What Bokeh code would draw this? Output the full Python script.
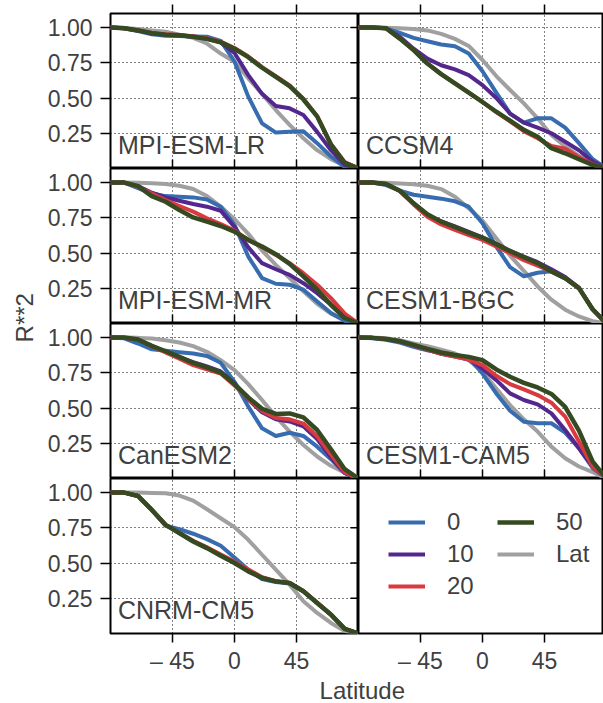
import math
from bokeh.plotting import figure
from bokeh.layouts import row, column
from bokeh.models import (Label, Legend, LegendItem, FixedTicker, Range1d,
                          LinearAxis, NumeralTickFormatter)
from bokeh.embed import file_html
from bokeh.resources import INLINE

# ---------------- data ----------------
LATS = [-90, -80, -70, -60, -50, -40, -30, -20, -10, 0, 10, 20, 30, 40, 50, 60, 70, 80, 90]
MODELS = ["MPI-ESM-LR", "CCSM4", "MPI-ESM-MR", "CESM1-BGC", "CanESM2", "CESM1-CAM5", "CNRM-CM5"]
SERIES = ["0", "10", "20", "50", "Lat"]
X_TICKS = [-45, 0, 45]
Y_TICKS = [0.25, 0.5, 0.75, 1.0]

mpi_lr_0 = [1.0, 0.995, 0.975, 0.952, 0.942, 0.94, 0.937, 0.935, 0.905, 0.76, 0.51, 0.32, 0.255, 0.26, 0.265, 0.18, 0.085, 0.01, 0.0]
mpi_lr_10 = [1.0, 0.995, 0.98, 0.96, 0.95, 0.945, 0.935, 0.92, 0.895, 0.82, 0.663, 0.53, 0.443, 0.427, 0.38, 0.26, 0.13, 0.026, 0.0]
mpi_lr_20 = [1.0, 0.995, 0.982, 0.962, 0.952, 0.947, 0.938, 0.925, 0.9, 0.855, 0.795, 0.72, 0.655, 0.59, 0.495, 0.37, 0.175, 0.045, 0.0]
mpi_lr_50 = [1.0, 0.995, 0.98, 0.96, 0.95, 0.945, 0.935, 0.92, 0.895, 0.85, 0.79, 0.715, 0.65, 0.585, 0.49, 0.37, 0.17, 0.04, 0.0]
mpi_lr_lat = [1.0, 0.998, 0.99, 0.98, 0.97, 0.95, 0.927, 0.887, 0.816, 0.757, 0.64, 0.53, 0.415, 0.31, 0.215, 0.13, 0.066, 0.02, 0.0]

ccsm4_0 = [1.0, 1.0, 0.995, 0.962, 0.927, 0.903, 0.88, 0.868, 0.816, 0.69, 0.538, 0.39, 0.325, 0.356, 0.356, 0.29, 0.18, 0.066, 0.0]
ccsm4_10 = [1.0, 1.0, 0.995, 0.934, 0.85, 0.78, 0.733, 0.703, 0.663, 0.592, 0.5, 0.39, 0.325, 0.29, 0.25, 0.19, 0.13, 0.05, 0.0]
ccsm4_20 = [1.0, 1.0, 0.995, 0.922, 0.84, 0.745, 0.67, 0.604, 0.538, 0.472, 0.4, 0.335, 0.265, 0.215, 0.16, 0.14, 0.08, 0.03, 0.0]
ccsm4_50 = [1.0, 1.0, 0.995, 0.922, 0.84, 0.745, 0.67, 0.604, 0.538, 0.472, 0.403, 0.34, 0.274, 0.226, 0.144, 0.108, 0.066, 0.026, 0.0]
ccsm4_lat = [1.0, 1.0, 0.998, 0.995, 0.99, 0.98, 0.955, 0.92, 0.87, 0.77, 0.656, 0.557, 0.462, 0.356, 0.238, 0.156, 0.09, 0.038, 0.0]

mpi_mr_0 = [1.0, 1.0, 0.96, 0.923, 0.904, 0.9, 0.895, 0.88, 0.829, 0.7, 0.475, 0.322, 0.282, 0.275, 0.24, 0.156, 0.074, 0.02, 0.0]
mpi_mr_10 = [1.0, 1.0, 0.975, 0.928, 0.895, 0.871, 0.848, 0.829, 0.8, 0.685, 0.54, 0.428, 0.385, 0.345, 0.286, 0.215, 0.133, 0.045, 0.0]
mpi_mr_20 = [1.0, 1.0, 0.97, 0.923, 0.876, 0.834, 0.794, 0.746, 0.706, 0.659, 0.593, 0.541, 0.487, 0.428, 0.357, 0.275, 0.18, 0.07, 0.0]
mpi_mr_50 = [1.0, 1.0, 0.975, 0.904, 0.864, 0.805, 0.753, 0.723, 0.692, 0.652, 0.593, 0.546, 0.492, 0.423, 0.334, 0.24, 0.133, 0.039, 0.0]
mpi_mr_lat = [1.0, 1.0, 0.998, 0.995, 0.99, 0.978, 0.955, 0.905, 0.83, 0.74, 0.636, 0.518, 0.416, 0.322, 0.228, 0.14, 0.07, 0.022, 0.0]

bgc_0 = [1.0, 1.0, 0.982, 0.942, 0.914, 0.9, 0.886, 0.867, 0.829, 0.711, 0.546, 0.4, 0.335, 0.36, 0.37, 0.32, 0.25, 0.1, 0.0]
bgc_10 = [1.0, 1.0, 0.99, 0.942, 0.853, 0.77, 0.725, 0.69, 0.65, 0.61, 0.565, 0.515, 0.475, 0.435, 0.385, 0.33, 0.255, 0.1, 0.0]
bgc_20 = [1.0, 1.0, 0.99, 0.94, 0.845, 0.758, 0.703, 0.664, 0.628, 0.593, 0.546, 0.499, 0.45, 0.41, 0.369, 0.322, 0.25, 0.1, 0.0]
bgc_50 = [1.0, 1.0, 0.99, 0.942, 0.853, 0.775, 0.723, 0.685, 0.645, 0.61, 0.563, 0.515, 0.47, 0.428, 0.369, 0.322, 0.251, 0.1, 0.0]
bgc_lat = [1.0, 1.0, 0.999, 0.994, 0.989, 0.978, 0.954, 0.9, 0.817, 0.73, 0.605, 0.482, 0.374, 0.263, 0.169, 0.098, 0.05, 0.017, 0.0]

can_0 = [1.0, 0.995, 0.958, 0.917, 0.906, 0.896, 0.887, 0.87, 0.821, 0.686, 0.51, 0.356, 0.302, 0.325, 0.302, 0.226, 0.137, 0.038, 0.0]
can_10 = [1.0, 0.998, 0.985, 0.94, 0.9, 0.86, 0.825, 0.795, 0.76, 0.675, 0.56, 0.47, 0.42, 0.405, 0.37, 0.28, 0.15, 0.04, 0.0]
can_20 = [1.0, 0.998, 0.985, 0.94, 0.895, 0.85, 0.805, 0.775, 0.745, 0.66, 0.565, 0.48, 0.43, 0.42, 0.39, 0.3, 0.17, 0.045, 0.0]
can_50 = [1.0, 1.0, 0.986, 0.941, 0.903, 0.863, 0.821, 0.788, 0.752, 0.67, 0.575, 0.495, 0.458, 0.462, 0.434, 0.344, 0.208, 0.066, 0.0]
can_lat = [1.0, 1.0, 0.998, 0.993, 0.981, 0.965, 0.939, 0.899, 0.84, 0.769, 0.67, 0.557, 0.439, 0.333, 0.238, 0.156, 0.09, 0.042, 0.0]

cam5_0 = [1.0, 0.995, 0.985, 0.965, 0.935, 0.91, 0.89, 0.875, 0.858, 0.745, 0.604, 0.481, 0.403, 0.392, 0.392, 0.325, 0.215, 0.073, 0.0]
cam5_10 = [1.0, 0.998, 0.99, 0.974, 0.945, 0.915, 0.885, 0.865, 0.845, 0.78, 0.698, 0.604, 0.557, 0.526, 0.462, 0.344, 0.215, 0.085, 0.0]
cam5_20 = [1.0, 0.998, 0.99, 0.974, 0.945, 0.915, 0.885, 0.865, 0.844, 0.804, 0.729, 0.67, 0.632, 0.592, 0.538, 0.439, 0.262, 0.085, 0.0]
cam5_50 = [1.0, 0.998, 0.99, 0.974, 0.948, 0.92, 0.894, 0.877, 0.863, 0.84, 0.774, 0.722, 0.679, 0.646, 0.6, 0.509, 0.34, 0.12, 0.0]
cam5_lat = [1.0, 1.0, 0.996, 0.981, 0.958, 0.939, 0.915, 0.887, 0.84, 0.757, 0.639, 0.521, 0.42, 0.333, 0.226, 0.144, 0.085, 0.045, 0.0]

cnrm_0 = [1.0, 1.0, 0.976, 0.877, 0.765, 0.74, 0.708, 0.67, 0.623, 0.54, 0.453, 0.387, 0.365, 0.355, 0.3, 0.217, 0.134, 0.033, 0.0]
cnrm_10 = [1.0, 1.0, 0.976, 0.877, 0.771, 0.712, 0.655, 0.608, 0.555, 0.505, 0.445, 0.396, 0.37, 0.358, 0.3, 0.217, 0.134, 0.033, 0.0]
cnrm_20 = [1.0, 1.0, 0.976, 0.877, 0.771, 0.714, 0.658, 0.612, 0.56, 0.51, 0.455, 0.4, 0.372, 0.358, 0.302, 0.22, 0.136, 0.035, 0.0]
cnrm_50 = [1.0, 1.0, 0.976, 0.877, 0.771, 0.712, 0.653, 0.606, 0.552, 0.5, 0.441, 0.394, 0.37, 0.358, 0.3, 0.217, 0.134, 0.033, 0.0]
cnrm_lat = [1.0, 1.0, 1.0, 0.997, 0.995, 0.979, 0.943, 0.882, 0.818, 0.755, 0.665, 0.559, 0.453, 0.347, 0.229, 0.146, 0.075, 0.017, 0.0]

DATA = {
    "MPI-ESM-LR": dict(zip(SERIES, [mpi_lr_0, mpi_lr_10, mpi_lr_20, mpi_lr_50, mpi_lr_lat])),
    "CCSM4": dict(zip(SERIES, [ccsm4_0, ccsm4_10, ccsm4_20, ccsm4_50, ccsm4_lat])),
    "MPI-ESM-MR": dict(zip(SERIES, [mpi_mr_0, mpi_mr_10, mpi_mr_20, mpi_mr_50, mpi_mr_lat])),
    "CESM1-BGC": dict(zip(SERIES, [bgc_0, bgc_10, bgc_20, bgc_50, bgc_lat])),
    "CanESM2": dict(zip(SERIES, [can_0, can_10, can_20, can_50, can_lat])),
    "CESM1-CAM5": dict(zip(SERIES, [cam5_0, cam5_10, cam5_20, cam5_50, cam5_lat])),
    "CNRM-CM5": dict(zip(SERIES, [cnrm_0, cnrm_10, cnrm_20, cnrm_50, cnrm_lat])),
}

# ---------------- style ----------------
COLORS = {"0": "#386cb0", "10": "#54278f", "20": "#d93a40", "50": "#354a21", "Lat": "#a0a0a0"}
WIDTHS = {"0": 4, "10": 4, "20": 4, "50": 4.5, "Lat": 4}
DRAW_ORDER = ["Lat", "0", "10", "20", "50"]
FONT = "Liberation Sans"
TXT = "#404040"
YLAB_W = 40
FW_L, FW_R, FH = 248, 245, 155
TOP_B, BOT_B = 13, 42
PX_PER_DEG = FW_L / 180.0


def make_panel(col, rowi, name=None):
    left = col == 0
    xr = Range1d(-90, 90) if left else Range1d(-90, -90 + FW_R / PX_PER_DEG)
    yr = Range1d(0, 1.1)
    p = figure(x_range=xr, y_range=yr, title=None,
               frame_width=FW_L if left else FW_R, frame_height=FH,
               x_axis_location=None, y_axis_location=None,
               output_backend="svg", toolbar_location=None)
    p.min_border_left = 70 if left else 0
    p.min_border_right = 0
    p.min_border_top = TOP_B if rowi == 0 else 0
    p.min_border_bottom = BOT_B if rowi == 3 else 0
    p.outline_line_color = "black"
    p.outline_line_width = 2
    p.outline_line_alpha = 1
    p.background_fill_color = "white"
    p.border_fill_color = "white"

    p.xgrid.ticker = FixedTicker(ticks=X_TICKS)
    p.ygrid.ticker = FixedTicker(ticks=Y_TICKS)
    for g in (p.xgrid, p.ygrid):
        g.grid_line_color = "black"
        g.grid_line_width = 1
        g.grid_line_dash = "1 3"
        g.grid_line_alpha = 1
        if name is None:
            g.visible = False

    def axis_common(ax):
        ax.axis_line_color = None
        ax.major_tick_line_color = "black"
        ax.major_tick_line_width = 1.5
        ax.minor_tick_line_color = None
        ax.major_label_text_font = FONT
        ax.major_label_text_color = TXT

    if left:
        yax = LinearAxis(ticker=FixedTicker(ticks=Y_TICKS))
        axis_common(yax)
        yax.major_tick_out = 10
        yax.major_tick_in = 0
        yax.major_label_standoff = 8
        yax.major_label_text_font_size = "23px"
        yax.formatter = NumeralTickFormatter(format="0.00")
        p.add_layout(yax, "left")
        # ticks of the right-hand neighbour, reaching into this panel
        p.ray(x=[xr.end] * len(Y_TICKS), y=Y_TICKS, length=8, length_units="screen",
              angle=math.pi, line_color="black", line_width=1.5)

    if rowi == 0:
        tax = LinearAxis(ticker=FixedTicker(ticks=X_TICKS))
        axis_common(tax)
        tax.major_tick_out = 9
        tax.major_tick_in = 0
        tax.major_label_standoff = 0
        tax.major_label_text_font_size = "1px"
        tax.major_label_overrides = {t: "" for t in X_TICKS}
        p.add_layout(tax, "above")

    if rowi == 3:
        bax = LinearAxis(ticker=FixedTicker(ticks=X_TICKS))
        axis_common(bax)
        bax.major_tick_out = 9
        bax.major_tick_in = 0
        bax.major_label_standoff = 5
        bax.major_label_text_font_size = "23px"
        bax.major_label_overrides = {-45: "\u2013 45", 0: "0", 45: "45"}
        p.add_layout(bax, "below")
    else:
        # ticks of the panel below, reaching up into this panel
        p.ray(x=X_TICKS, y=[yr.start] * len(X_TICKS), length=9, length_units="screen",
              angle=math.pi / 2, line_color="black", line_width=1.5)

    if name is not None:
        d = DATA[name]
        for s in DRAW_ORDER:
            p.line(LATS, d[s], line_color=COLORS[s], line_width=WIDTHS[s],
                   line_join="round", line_cap="round")
        p.add_layout(Label(x=-84.6, y=0.167, text=name, text_font=FONT,
                           text_font_size="25px", text_color=TXT,
                           text_baseline="middle", text_align="left"))
    else:
        d = DATA[MODELS[-1]]
        items = []
        for s in SERIES:
            r = p.line(LATS, d[s], line_color=COLORS[s], line_width=WIDTHS[s])
            r.visible = False
            items.append(LegendItem(label=s, renderers=[r]))
        leg = Legend(items=items, ncols=2, location="top_left",
                     label_text_font=FONT, label_text_font_size="24px",
                     label_text_color=TXT, glyph_width=37, glyph_height=28,
                     label_height=28, label_width=46, label_standoff=22,
                     spacing=4, padding=0, margin=30,
                     border_line_color=None, background_fill_alpha=0,
                     inactive_fill_alpha=0)
        p.add_layout(leg)
    return p


panels = []
idx = 0
for rowi in range(4):
    rp = []
    for col in range(2):
        rp.append(make_panel(col, rowi, MODELS[idx] if idx < len(MODELS) else None))
        idx += 1
    panels.append(row(*rp, spacing=0))
grid = column(*panels, spacing=0)

GRID_H = TOP_B + FH * 4 + BOT_B
XLAB_H = 703 - GRID_H


def strip(w, h):
    s = figure(frame_width=w, frame_height=h, x_range=Range1d(0, 1), y_range=Range1d(0, 1),
               title=None, x_axis_location=None, y_axis_location=None,
               output_backend="svg", toolbar_location=None, min_border=0)
    s.outline_line_color = None
    s.grid.visible = False
    return s


ylab = strip(YLAB_W, GRID_H)
ylab.add_layout(Label(x=0.6, y=0.53, text="R**2", angle=math.pi / 2,
                      text_font=FONT, text_font_size="24px", text_color=TXT,
                      text_align="center", text_baseline="middle"))

xlab = strip(YLAB_W + 70 + FW_L + FW_R, XLAB_H)
xlab.add_layout(Label(x=0.6, y=0.5, text="Latitude", text_font=FONT,
                      text_font_size="24px", text_color=TXT,
                      text_align="center", text_baseline="middle"))

page = column(row(ylab, grid, spacing=0), xlab, spacing=0)

open("out.html", "w").write(file_html(page, INLINE))
